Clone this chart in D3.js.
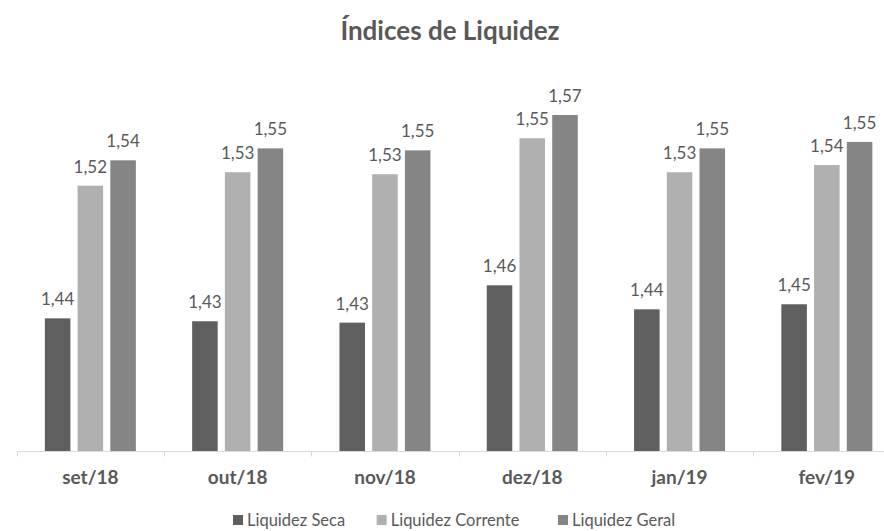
<!DOCTYPE html>
<html>
<head>
<meta charset="utf-8">
<script src="https://cdn.jsdelivr.net/npm/d3@7"></script>
<style>
body { margin: 0; background: #fff; }
text { font-family: Lato, "Open Sans", sans-serif; fill: #595959; }
</style>
</head>
<body>
<div id="chart"></div>
<script>
var width = 884;
var height = 531;

var months = ["set/18", "out/18", "nov/18", "dez/18", "jan/19", "fev/19"];
var seriesNames = ["Liquidez Seca", "Liquidez Corrente", "Liquidez Geral"];
var seca = [1.4367, 1.4348, 1.4339, 1.4583, 1.4426, 1.4459];
var corrente = [1.5234, 1.5322, 1.5309, 1.5544, 1.5322, 1.5369];
var geral = [1.5400, 1.5478, 1.5465, 1.5696, 1.5478, 1.5520];
var colors = ["#5f5f5f", "#b0b0b0", "#858585"];

var seriesValues = [seca, corrente, geral];
var rows = months.map(function(m, i) {
	return {month: m, values: seriesValues.map(function(s, j) {
		return {name: seriesNames[j], value: s[i]};
	})};
});

var svg = d3.select("#chart").append("svg")
	.attr("width", width)
	.attr("height", height);

var x0 = d3.scaleBand()
	.domain(months)
	.range([16.7, 900.5]);

var groupWidth = 91;
var x1 = d3.scaleBand()
	.domain(seriesNames)
	.range([0, groupWidth])
	.paddingInner(0.22);

var y = d3.scaleLinear()
	.domain([1.35, 1.6])
	.range([451, 68.5]);

var fmt = function(v) {
	return d3.format(".2f")(v).replace(".", ",");
};

// title
svg.append("text")
	.attr("x", 450)
	.attr("y", 40)
	.attr("text-anchor", "middle")
	.style("font-size", "26px")
	.style("font-weight", "bold")
	.text("Índices de Liquidez");

var groups = svg.selectAll("g.group")
	.data(rows)
	.enter()
	.append("g")
	.attr("class", "group")
	.attr("transform", function(d) {
		return "translate(" + (x0(d.month) + (x0.bandwidth() - groupWidth) / 2) + ",0)";
	});

groups.selectAll("rect")
	.data(function(d) { return d.values; })
	.enter()
	.append("rect")
	.attr("x", function(d) { return x1(d.name); })
	.attr("y", function(d) { return y(d.value); })
	.attr("width", x1.bandwidth())
	.attr("height", function(d) { return y.range()[0] - y(d.value); })
	.attr("fill", function(d, i) { return colors[i]; });

groups.selectAll("text.label")
	.data(function(d) { return d.values; })
	.enter()
	.append("text")
	.attr("class", "label")
	.attr("x", function(d) { return x1(d.name) + x1.bandwidth() / 2; })
	.attr("y", function(d) { return y(d.value) - 13; })
	.attr("text-anchor", "middle")
	.style("font-size", "17px")
	.text(function(d) { return fmt(d.value); });

// x axis
var axis = svg.append("g")
	.attr("transform", "translate(0," + 451.5 + ")");
axis.append("line")
	.attr("x1", x0.range()[0])
	.attr("x2", x0.range()[1])
	.attr("stroke", "#d9d9d9")
	.attr("stroke-width", 1);
axis.selectAll("line.tick")
	.data(months)
	.enter()
	.append("line")
	.attr("class", "tick")
	.attr("x1", function(d) { return Math.round(x0(d)) + 0.5; })
	.attr("x2", function(d) { return Math.round(x0(d)) + 0.5; })
	.attr("y1", 0)
	.attr("y2", 5)
	.attr("stroke", "#d9d9d9");
axis.selectAll("text")
	.data(months)
	.enter()
	.append("text")
	.attr("x", function(d) { return x0(d) + x0.bandwidth() / 2; })
	.attr("y", 32)
	.attr("text-anchor", "middle")
	.style("font-size", "19px")
	.style("font-weight", "bold")
	.text(function(d) { return d; });

// legend
var legendX = [233, 376.7, 558];
var legend = svg.selectAll("g.legend")
	.data(seriesNames)
	.enter()
	.append("g")
	.attr("class", "legend")
	.attr("transform", function(d, i) { return "translate(" + legendX[i] + ",515)"; });
legend.append("rect")
	.attr("width", 10)
	.attr("height", 10)
	.attr("fill", function(d, i) { return colors[i]; });
legend.append("text")
	.attr("x", 14)
	.attr("y", 10.5)
	.style("font-size", "16.5px")
	.text(function(d) { return d; });
</script>
</body>
</html>
